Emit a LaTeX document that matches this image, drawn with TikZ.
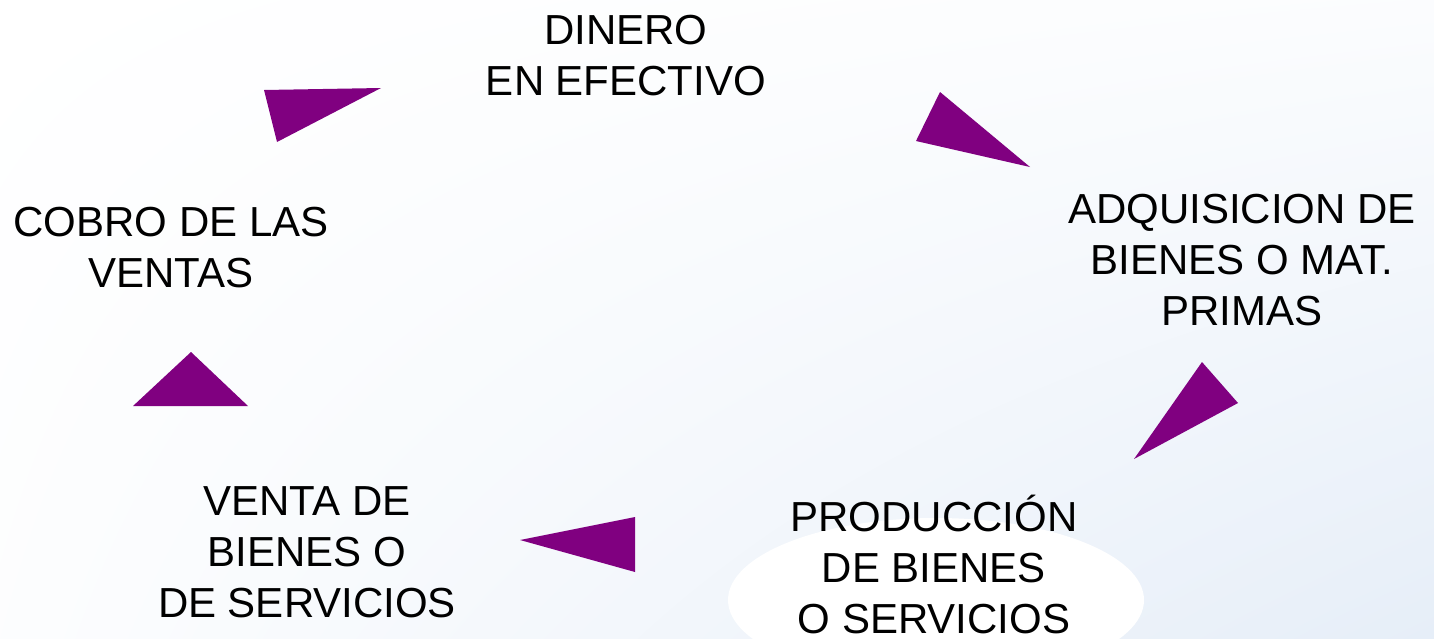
\documentclass[tikz,border=0pt]{standalone}
\usepackage{fontspec}
\setmainfont{Liberation Sans}
\usetikzlibrary{shapes.geometric,shadings}
\definecolor{tri}{HTML}{800080}
\definecolor{bgblue}{HTML}{E6EEF8}
\tikzset{
  lbl/.style={align=center, inner sep=0pt, anchor=base, font=\fontsize{42}{51}\selectfont},
  arrowtri/.style={fill=tri, draw=none}
}
\begin{document}
\begin{tikzpicture}[x=1pt,y=-1pt]
\useasboundingbox (0,0) rectangle (1434,638);
\shade[upper left=white, upper right=white!85!bgblue, lower left=white!90!bgblue, lower right=bgblue] (0,0) rectangle (1434,638);
\fill[white] (936,600) ellipse [x radius=208, y radius=82];
% triangles
\fill[arrowtri] (264,90) -- (381,88) -- (277,142) -- cycle;
\fill[arrowtri] (940,92) -- (1030,167) -- (916,141) -- cycle;
\fill[arrowtri] (1202,362) -- (1238,403) -- (1134,459) -- cycle;
\fill[arrowtri] (635,517) -- (635,572) -- (520,540) -- cycle;
\fill[arrowtri] (191,352) -- (248,406) -- (133,406) -- cycle;
% labels (base = baseline of last line)
\node[lbl] (dinero) at (626,95) {DINERO\\EN EFECTIVO};
\node[lbl] (cobro) at (171,287) {COBRO DE LAS\\VENTAS};
\node[lbl] (adq) at (1242,325) {ADQUISICION DE\\BIENES O MAT.\\PRIMAS};
\node[lbl] (venta) at (307,617) {VENTA DE\\BIENES O\\DE SERVICIOS};
\node[lbl] (prod) at (934,633) {PRODUCCIÓN\\DE BIENES\\O SERVICIOS};
\end{tikzpicture}
\end{document}
